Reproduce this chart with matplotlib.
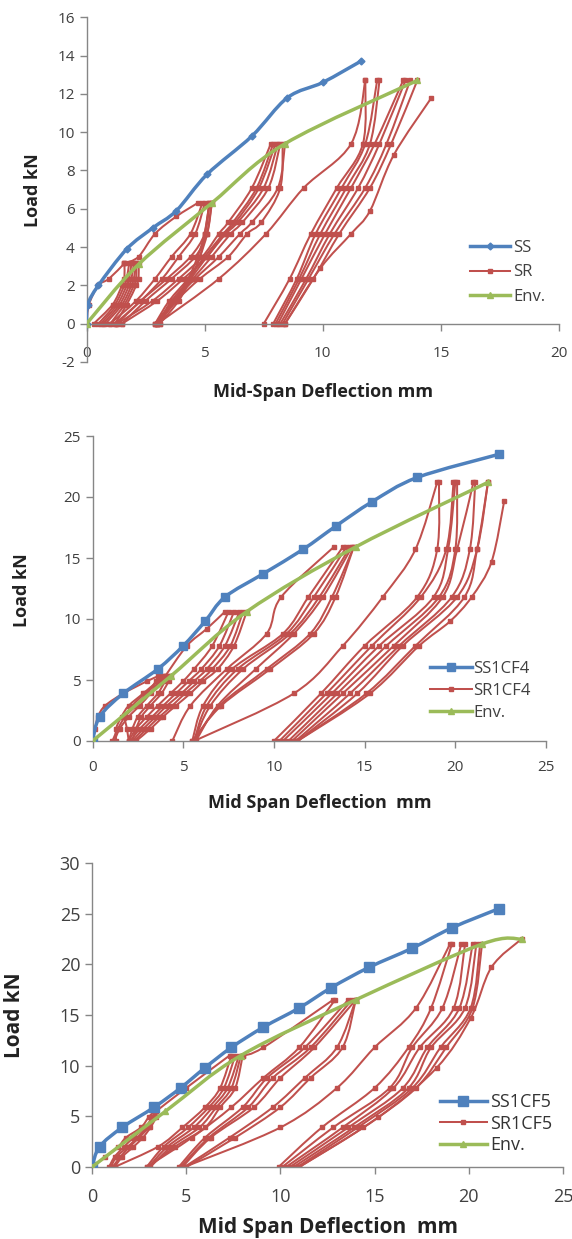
import matplotlib
matplotlib.use("Agg")
import matplotlib.pyplot as plt
from matplotlib.path import Path
from matplotlib.patches import PathPatch

plt.rcParams['font.family'] = ['Open Sans', 'DejaVu Sans']
plt.rcParams['axes.unicode_minus'] = False

BLUE = "#4F81BD"
RED = "#C0504D"
GREEN = "#9BBB59"
GRID = "#868686"
TXT = "#404040"

# ---------------- panel 1 : SS / SR ----------------
ss_x = [0, 0.05, 0.5, 1.7, 2.8, 3.8, 5.1, 7.0, 8.5, 10.0, 11.6]
ss_y = [0, 1.0, 2.0, 3.9, 5.0, 5.9, 7.8, 9.8, 11.8, 12.6, 13.7]
env1_x = [0, 2.2, 5.3, 8.4, 14.0]
env1_y = [0, 3.1, 6.3, 9.4, 12.7]

# each SR group: load levels, then deflection rows (one row = one branch)
sr1_groups = [
    ([0, 1.0, 2.0, 2.35, 3.15],
     [[0.0, 0.1, 0.5, 0.95, 1.6],
      [0.3, 1.1, 1.5, 1.6, 1.6],
      [0.5, 1.2, 1.6, 1.7, 1.8],
      [0.6, 1.3, 1.7, 1.8, 1.9],
      [0.7, 1.4, 1.8, 1.9, 2.0],
      [0.8, 1.5, 1.9, 2.0, 2.1],
      [1.0, 1.6, 2.0, 2.1, 2.1],
      [1.2, 1.7, 2.1, 2.2, 2.2]]),
    ([3.15, 3.5, 4.7, 5.6, 6.3],
     [[1.6, 2.2, 2.9, 3.8, 4.7]]),
    ([0, 1.2, 2.35, 3.5, 4.7, 6.3],
     [[1.0, 2.1, 2.9, 3.6, 4.4, 4.9],
      [1.2, 2.3, 3.2, 3.9, 4.6, 5.0],
      [1.3, 2.3, 3.4, 4.4, 5.0, 5.2],
      [1.5, 2.5, 3.6, 4.6, 5.1, 5.3],
      [2.9, 3.7, 4.3, 4.7, 5.0, 5.2],
      [3.0, 3.8, 4.4, 4.8, 5.1, 5.3],
      [3.1, 3.9, 4.4, 4.8, 5.0, 5.2]]),
    ([0, 1.2, 2.35, 3.5, 4.7, 5.3, 7.1, 9.4],
     [[1.3, 2.8, 3.9, 4.9, 5.6, 6.0, 7.0, 7.8],
      [1.5, 3.0, 4.1, 5.1, 5.8, 6.2, 7.2, 7.9],
      [2.9, 3.5, 4.3, 5.0, 5.8, 6.3, 7.3, 8.0],
      [3.0, 3.6, 4.4, 5.1, 5.9, 6.4, 7.5, 8.1],
      [3.1, 3.7, 4.5, 5.3, 6.1, 6.6, 7.7, 8.2],
      [2.9, 3.7, 4.6, 5.6, 6.5, 7.0, 8.1, 8.4],
      [3.0, 3.8, 4.8, 6.0, 6.8, 7.4, 8.2, 8.3]]),
    ([0, 2.35, 4.7, 7.1, 9.4, 12.7],
     [[3.0, 5.6, 7.6, 9.2, 11.2, 11.8],
      [7.5, 8.6, 9.5, 10.6, 11.7, 11.8],
      [7.9, 8.9, 9.7, 10.8, 11.8, 12.3],
      [8.0, 9.0, 9.9, 11.0, 12.0, 12.4],
      [8.1, 9.1, 10.1, 11.2, 12.2, 13.4],
      [8.2, 9.3, 10.3, 11.5, 12.4, 13.5],
      [8.3, 9.4, 10.5, 11.8, 12.7, 13.7],
      [8.4, 9.6, 10.7, 12.0, 12.9, 14.0]]),
    ([0, 2.9, 4.7, 5.9, 8.8, 11.8],
     [[8.4, 9.9, 11.2, 12.0, 13.0, 14.6]]),
]

# ---------------- panel 2 : SS1CF4 / SR1CF4 ----------------
ss2_x = [0, 0.4, 1.7, 3.6, 5.0, 6.2, 7.3, 9.4, 11.6, 13.4, 15.4, 17.9, 22.4]
ss2_y = [0, 2.0, 3.9, 5.9, 7.8, 9.8, 11.8, 13.7, 15.7, 17.6, 19.6, 21.6, 23.5]
env2_x = [0, 4.3, 8.5, 14.5, 21.8]
env2_y = [0, 5.3, 10.6, 15.9, 21.2]

sr2_groups = [
    ([0, 1.0, 2.0, 2.9, 3.9, 4.9, 5.3],
     [[0.0, 0.15, 0.3, 0.7, 1.7, 3.0, 3.6],
      [1.1, 1.4, 1.8, 2.4, 3.0, 3.5, 3.7],
      [1.2, 1.5, 2.0, 2.6, 3.2, 3.7, 3.9],
      [1.3, 1.3, 1.6, 2.0, 2.8, 3.6, 4.0],
      [2.0, 2.2, 2.5, 3.0, 3.6, 4.0, 4.1],
      [2.2, 2.4, 2.7, 3.2, 3.8, 4.2, 4.3],
      [2.0, 1.9, 1.8, 2.2, 2.9, 3.8, 4.2]]),
    ([5.3, 7.8, 9.2, 10.6],
     [[4.0, 5.2, 6.3, 7.3]]),
    ([0, 1.0, 2.0, 2.9, 3.9, 4.9, 5.9, 7.8, 10.6],
     [[2.0, 2.4, 3.0, 3.6, 4.3, 5.0, 5.6, 6.6, 7.5],
      [2.1, 2.6, 3.3, 3.9, 4.6, 5.3, 6.0, 7.0, 7.8],
      [2.2, 2.8, 3.5, 4.1, 4.9, 5.6, 6.3, 7.3, 8.1],
      [2.3, 3.0, 3.7, 4.4, 5.1, 5.9, 6.6, 7.6, 8.3],
      [2.4, 3.2, 3.9, 4.6, 5.4, 6.1, 6.9, 7.8, 8.5]]),
    ([0, 2.9, 5.9, 8.8, 11.8, 15.9],
     [[4.4, 5.4, 7.4, 9.6, 10.4, 13.3],
      [5.5, 6.1, 7.7, 10.5, 11.9, 13.8],
      [5.6, 6.3, 8.0, 10.7, 12.2, 14.0],
      [5.6, 6.5, 8.3, 10.9, 12.5, 14.2],
      [5.7, 6.9, 9.0, 11.1, 12.7, 14.3],
      [5.6, 7.0, 9.6, 12.0, 13.2, 14.4],
      [5.5, 7.1, 9.8, 12.2, 13.4, 14.4]]),
    ([0, 3.9, 7.8, 11.8, 15.7, 21.2],
     [[5.6, 11.1, 13.8, 16.0, 17.8, 19.0],
      [10.0, 12.6, 15.0, 17.9, 19.0, 19.1],
      [10.3, 12.9, 15.4, 18.1, 19.5, 19.9],
      [10.5, 13.2, 15.8, 18.8, 19.6, 20.0],
      [10.8, 13.5, 16.2, 19.1, 20.0, 20.1],
      [11.0, 13.8, 16.6, 19.3, 20.1, 21.0],
      [11.2, 14.2, 16.9, 19.8, 20.8, 21.1],
      [11.3, 14.6, 17.1, 20.1, 21.2, 21.8],
      [11.3, 15.1, 17.8, 20.5, 21.2, 21.8]]),
    ([0, 3.9, 7.8, 9.8, 11.8, 14.7, 19.7],
     [[11.3, 15.3, 18.0, 19.7, 20.9, 22.0, 22.7]]),
]

# ---------------- panel 3 : SS1CF5 / SR1CF5 ----------------
ss3_x = [0, 0.4, 1.6, 3.3, 4.7, 6.0, 7.4, 9.1, 11.0, 12.7, 14.7, 17.0, 19.1, 21.6]
ss3_y = [0, 2.0, 3.9, 5.9, 7.8, 9.8, 11.8, 13.8, 15.7, 17.7, 19.7, 21.6, 23.6, 25.5]
env3_x = [0, 3.9, 7.9, 14.0, 20.7, 22.8]
env3_y = [0, 5.5, 11.0, 16.5, 22.0, 22.5]

sr3_groups = [
    ([0, 1.0, 2.0, 2.9, 3.9, 4.9, 5.5],
     [[0.0, 0.7, 1.4, 1.8, 2.6, 3.0, 3.3],
      [0.9, 1.2, 1.7, 2.2, 2.8, 3.2, 3.3],
      [1.0, 1.3, 1.9, 2.4, 2.9, 3.3, 3.4],
      [1.1, 1.5, 2.0, 2.5, 3.0, 3.3, 3.4],
      [1.2, 1.6, 2.2, 2.7, 3.1, 3.4, 3.4]]),
    ([5.5, 7.8, 11.0],
     [[3.4, 5.0, 7.3]]),
    ([0, 2.0, 3.9, 5.9, 7.8, 11.0],
     [[1.2, 3.5, 4.8, 6.0, 6.8, 7.4],
      [2.9, 3.8, 5.1, 6.2, 7.0, 7.6],
      [3.0, 4.0, 5.4, 6.4, 7.2, 7.8],
      [3.1, 4.2, 5.7, 6.6, 7.4, 7.9],
      [3.0, 4.4, 6.0, 6.8, 7.6, 8.0]]),
    ([11.0, 11.8, 16.5],
     [[8.0, 9.1, 12.8]]),
    ([0, 2.9, 5.9, 8.8, 11.8, 16.5],
     [[2.9, 5.3, 7.4, 9.1, 11.0, 12.9],
      [4.6, 6.0, 8.0, 9.3, 11.3, 13.6],
      [4.7, 6.2, 8.3, 9.6, 11.6, 13.8],
      [4.8, 6.3, 8.6, 10.0, 11.8, 14.0],
      [4.9, 7.3, 9.6, 11.3, 13.0, 14.0],
      [5.0, 7.6, 10.0, 11.6, 13.3, 14.0]]),
    ([0, 3.9, 7.8, 11.8, 15.7, 22.0],
     [[4.9, 10.0, 13.0, 15.0, 17.2, 19.0],
      [9.9, 12.2, 15.0, 16.8, 18.0, 19.1],
      [10.1, 12.8, 15.8, 17.0, 18.6, 19.6],
      [10.3, 13.3, 16.0, 17.4, 19.2, 19.8],
      [10.5, 13.6, 16.5, 17.8, 19.5, 20.2],
      [10.7, 13.9, 16.8, 18.0, 19.8, 20.4],
      [10.9, 14.1, 17.0, 18.5, 20.1, 20.6],
      [11.0, 14.4, 17.2, 18.8, 20.2, 20.7]]),
    ([0, 4.9, 9.8, 14.7, 19.7, 22.5],
     [[11.0, 15.2, 18.3, 20.1, 21.2, 22.8]]),
]

W, H = 572, 1239
fig = plt.figure(figsize=(W / 100, H / 100), dpi=100)


def px_ax(left, right, top, bottom):
    # axes rectangle from pixel coords
    return fig.add_axes([left / W, 1 - bottom / H, (right - left) / W, (bottom - top) / H])


def style(ax, xmax, ymin, ymax, ystep, tfs):
    ax.set_xlim(0, xmax)
    ax.set_ylim(ymin, ymax)
    ax.set_xticks(range(0, xmax + 1, 5))
    ax.set_yticks(range(ymin, ymax + 1, ystep))
    for s in ["top", "right"]:
        ax.spines[s].set_visible(False)
    for s in ["left", "bottom"]:
        ax.spines[s].set_color(GRID)
        ax.spines[s].set_linewidth(1.0)
    ax.spines["bottom"].set_position(("data", 0))
    ax.tick_params(direction="out", length=5, width=1, color=GRID,
                   labelsize=tfs, labelcolor=TXT)
    ax.set_facecolor("none")


def smooth(ax, xs, ys, color, lw, z):
    # Excel-like smoothed line: Catmull-Rom segments as cubic Bezier curves
    pts = list(zip(xs, ys))
    verts = [pts[0]]
    codes = [Path.MOVETO]
    n = len(pts)
    for i in range(n - 1):
        p0 = pts[max(i - 1, 0)]
        p1 = pts[i]
        p2 = pts[i + 1]
        p3 = pts[min(i + 2, n - 1)]
        c1 = (p1[0] + (p2[0] - p0[0]) / 6, p1[1] + (p2[1] - p0[1]) / 6)
        c2 = (p2[0] - (p3[0] - p1[0]) / 6, p2[1] - (p3[1] - p1[1]) / 6)
        verts += [c1, c2, p2]
        codes += [Path.CURVE4] * 3
    ax.add_patch(PathPatch(Path(verts, codes), fill=False, edgecolor=color,
                           lw=lw, zorder=z, capstyle="round", joinstyle="round"))


def draw(ax, groups, ss_x, ss_y, env_x, env_y, names, ss_marker, ss_ms):
    for levels, rows in groups:
        for row in rows:
            smooth(ax, row, levels, RED, 1.45, 2)
            ax.plot(row, levels, ls="none", color=RED, marker="s", ms=3.2, zorder=2)
    smooth(ax, ss_x, ss_y, BLUE, 2.5, 3)
    ax.plot(ss_x, ss_y, ls="none", color=BLUE, marker=ss_marker, ms=ss_ms, zorder=3)
    smooth(ax, env_x, env_y, GREEN, 2.5, 4)
    ax.plot(env_x, env_y, ls="none", color=GREEN, marker="^", ms=5, zorder=4)
    # legend proxies
    h_ss, = ax.plot([], [], "-", color=BLUE, lw=2.5, marker=ss_marker, ms=ss_ms)
    h_sr, = ax.plot([], [], "-", color=RED, lw=1.45, marker="s", ms=3.2)
    h_env, = ax.plot([], [], "-", color=GREEN, lw=2.5, marker="^", ms=5)
    return [h_ss, h_sr, h_env], names


# panel 1
ax1 = px_ax(86.6, 559, 17.3, 362)
style(ax1, 20, -2, 16, 2, 11)
ax1.tick_params(axis="x", pad=11)
h, l = draw(ax1, sr1_groups, ss_x, ss_y, env1_x, env1_y, ["SS", "SR", "Env."], "D", 3.5)
ax1.legend(h, l, loc="upper left", bbox_to_anchor=(470 / W, 1 - 240 / H),
           bbox_transform=fig.transFigure, frameon=False, fontsize=12,
           handlelength=2.4, handletextpad=0.2, labelspacing=0.5,
           borderpad=0, borderaxespad=0, labelcolor=TXT)
fig.text(323 / W, 1 - 392 / H, "Mid-Span Deflection mm", ha="center", va="center",
         fontsize=13, fontweight="bold", color="#222222")
fig.text(33 / W, 1 - 190 / H, "Load kN", ha="center", va="center", rotation=90,
         fontsize=13, fontweight="bold", color="#222222")

# panel 2
ax2 = px_ax(92.5, 546, 436, 741)
style(ax2, 25, 0, 25, 5, 11)
ax2.tick_params(axis="x", pad=9)
h, l = draw(ax2, sr2_groups, ss2_x, ss2_y, env2_x, env2_y,
            ["SS1CF4", "SR1CF4", "Env."], "s", 5.5)
ax2.legend(h, l, loc="upper left", bbox_to_anchor=(430 / W, 1 - 661 / H),
           bbox_transform=fig.transFigure, frameon=False, fontsize=12,
           handlelength=2.5, handletextpad=0.1, labelspacing=0.35,
           borderpad=0, borderaxespad=0, labelcolor=TXT)
fig.text(320 / W, 1 - 803 / H, "Mid Span Deflection  mm", ha="center", va="center",
         fontsize=13, fontweight="bold", color="#222222")
fig.text(22 / W, 1 - 590 / H, "Load kN", ha="center", va="center", rotation=90,
         fontsize=13, fontweight="bold", color="#222222")

# panel 3
ax3 = px_ax(92, 563, 863, 1167)
style(ax3, 25, 0, 30, 5, 13)
ax3.tick_params(axis="x", pad=10)
h, l = draw(ax3, sr3_groups, ss3_x, ss3_y, env3_x, env3_y,
            ["SS1CF5", "SR1CF5", "Env."], "s", 7)
ax3.legend(h, l, loc="upper left", bbox_to_anchor=(440 / W, 1 - 1093 / H),
           bbox_transform=fig.transFigure, frameon=False, fontsize=13,
           handlelength=2.6, handletextpad=0.2, labelspacing=0.2,
           borderpad=0, borderaxespad=0, labelcolor="#333333")
fig.text(328 / W, 1 - 1227 / H, "Mid Span Deflection  mm", ha="center", va="center",
         fontsize=15, fontweight="bold", color="#222222")
fig.text(15 / W, 1 - 1015 / H, "Load kN", ha="center", va="center", rotation=90,
         fontsize=15, fontweight="bold", color="#222222")

fig.savefig("out.png", dpi=100)
